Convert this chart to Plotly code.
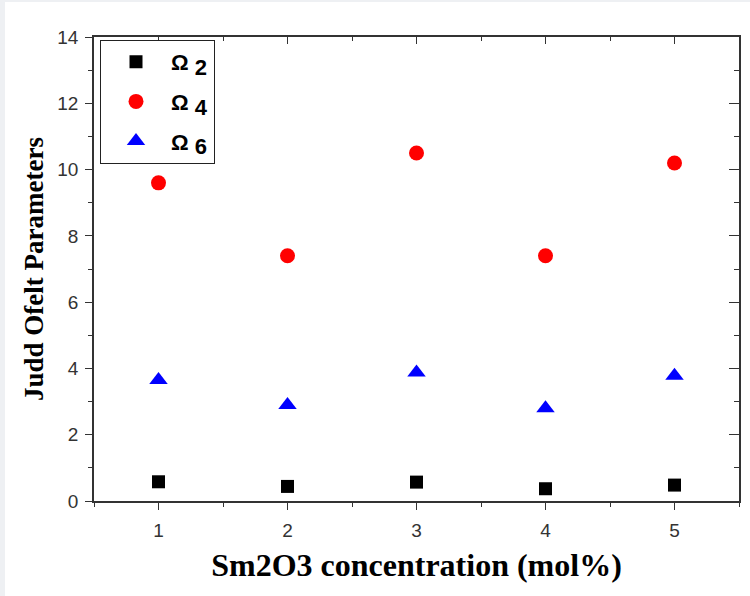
import plotly.graph_objects as go

concentration = [1, 2, 3, 4, 5]
omega2 = [0.58, 0.44, 0.57, 0.37, 0.48]
omega4 = [9.6, 7.4, 10.5, 7.4, 10.2]
omega6 = [3.65, 2.9, 3.88, 2.8, 3.78]
names = ["2", "4", "6"]

fig = go.Figure()
series = [
    (names[0], omega2, "square", "black", 13),
    (names[1], omega4, "circle", "red", 15),
    (names[2], omega6, "triangle-up", "blue", 16),
]
for i, (name, vals, sym, col, sz) in enumerate(series):
    fig.add_trace(go.Scatter(
        x=concentration, y=vals, mode="markers",
        name=f"<b>Ω <sub><span style='font-size:22px'>{name}</span></sub></b>",
        legendgroup=f"g{i}",
        marker=dict(symbol=sym, color=col, size=sz, line=dict(width=0)),
    ))

# dummy trace for mirrored axes
fig.add_trace(go.Scatter(x=[None], y=[None], xaxis="x2", yaxis="y2", showlegend=False))

axis_line = dict(showline=True, linecolor="#333", linewidth=1.5, showgrid=False, zeroline=False)
fig.update_layout(
    width=750, height=596,
    margin=dict(l=94, r=11, t=37, b=95),
    paper_bgcolor="#eef0f3",
    plot_bgcolor="white",
    showlegend=True,
    xaxis=dict(range=[0.5, 5.5], tick0=0, dtick=1, ticks="outside", ticklen=7, tickwidth=1.2,
               tickcolor="#333", ticklabelstandoff=4,
               minor=dict(ticks="outside", ticklen=4, dtick=0.5, tick0=0, tickcolor="#333"),
               tickfont=dict(family="Liberation Sans, Arial", size=19, color="#333"),
               title=dict(text="<b>Sm2O3 concentration (mol%)</b>", standoff=14,
                          font=dict(family="Liberation Serif, Times New Roman", size=32, color="black")),
               **axis_line),
    yaxis=dict(range=[0, 14], tick0=0, dtick=2, ticks="outside", ticklen=7, tickwidth=1.2,
               tickcolor="#333", ticklabelstandoff=3,
               minor=dict(ticks="outside", ticklen=4, dtick=1, tick0=0, tickcolor="#333"),
               tickfont=dict(family="Liberation Sans, Arial", size=19, color="#333"),
               title=dict(text="<b>Judd Ofelt Parameters</b>", standoff=6,
                          font=dict(family="Liberation Serif, Times New Roman", size=27, color="black")),
               **axis_line),
    xaxis2=dict(range=[0.5, 5.5], overlaying="x", side="top", tick0=0, dtick=1, ticks="inside",
                ticklen=7, tickwidth=1.2, tickcolor="#333", showticklabels=False,
                minor=dict(ticks="inside", ticklen=4, dtick=0.5, tick0=0, tickcolor="#333"),
                anchor="y2", **axis_line),
    yaxis2=dict(range=[0, 14], overlaying="y", side="right", tick0=0, dtick=2, ticks="inside",
                ticklen=10, tickwidth=1.2, tickcolor="#333", showticklabels=False,
                minor=dict(ticks="inside", ticklen=5, dtick=1, tick0=0, tickcolor="#333"),
                anchor="x2", **axis_line),
    legend=dict(x=0.009, y=0.994, xanchor="left", yanchor="top",
                bgcolor="white", bordercolor="#222", borderwidth=1.2,
                tracegroupgap=8, itemwidth=60,
                font=dict(family="Liberation Sans, Arial", size=22, color="black")),
    shapes=[dict(type="rect", xref="paper", yref="paper", x0=(5-94)/645, x1=(760-94)/645,
                 y0=(501-610)/464, y1=(501-2)/464, fillcolor="white", line=dict(width=0),
                 layer="below")],
)

fig.write_html("out.html", config={"displayModeBar": False},
               post_script="document.body.style.margin='0';")
